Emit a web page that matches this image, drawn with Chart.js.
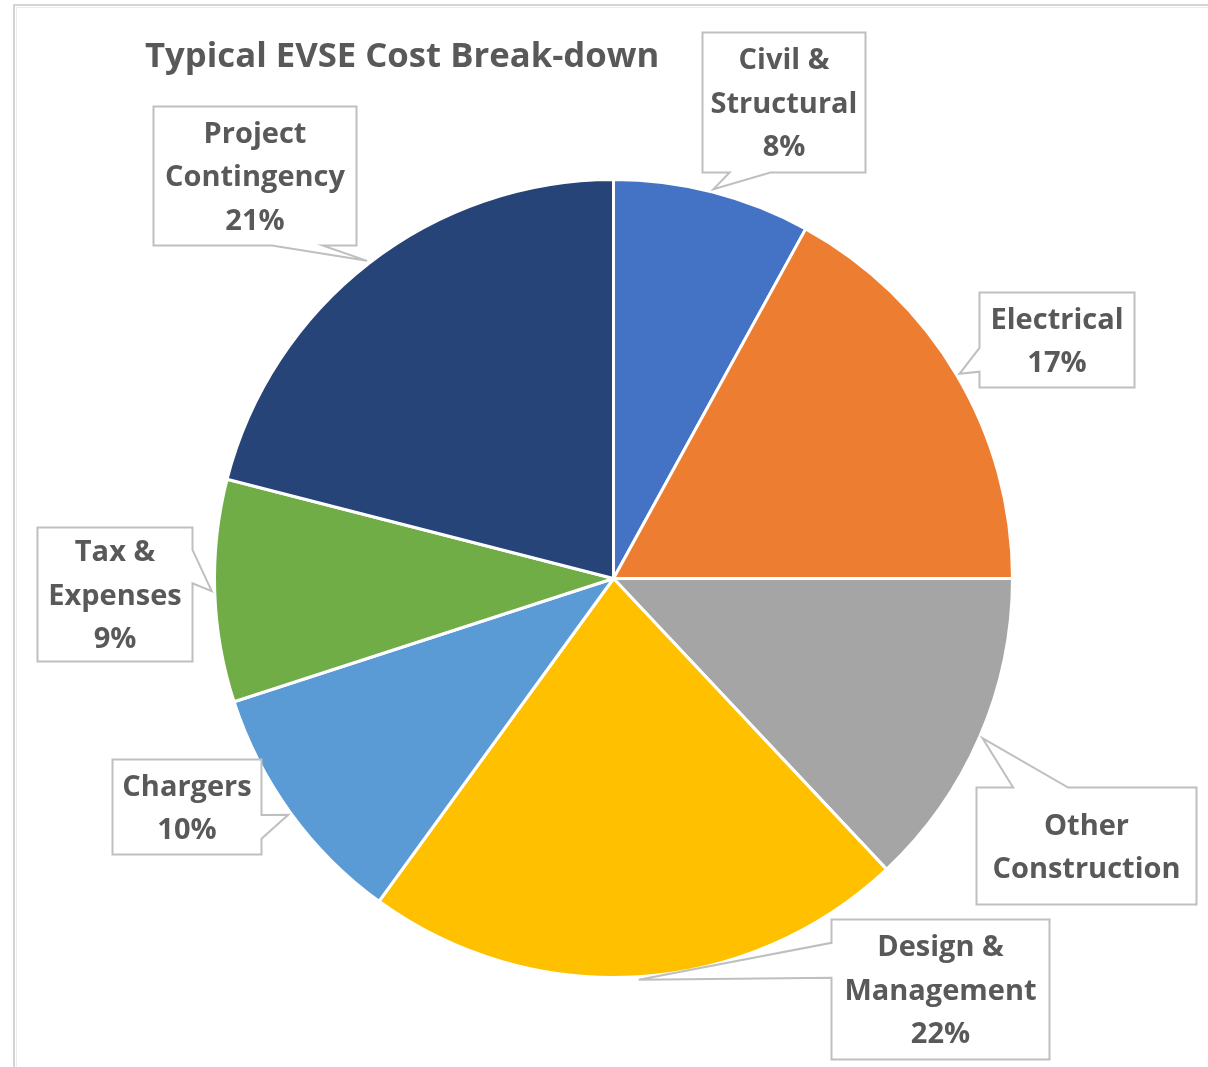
<!DOCTYPE html>
<html>
<head>
<title>Typical EVSE Cost Break-down</title>
<script src="https://cdn.jsdelivr.net/npm/chart.js"></script>
<style>
  html, body { margin: 0; padding: 0; background: #fff; }
  #wrap { width: 1208px; height: 1067px; }
</style>
</head>
<body>
<div id="wrap"><canvas id="chart" width="1208" height="1067"></canvas></div>

<script>
// cost categories, clockwise from 12 o'clock (multi-line labels)
const categories = [
  ['Civil &', 'Structural'],
  ['Electrical'],
  ['Other', 'Construction'],
  ['Design &', 'Management'],
  ['Chargers'],
  ['Tax &', 'Expenses'],
  ['Project', 'Contingency']
];
// share of total cost, percent
const costShares = [8, 17, 13, 22, 10, 9, 21];
// which callouts print the percentage
const showPercent = [true, true, false, true, true, true, true];

const sliceColors = ['#4472C4', '#ED7D31', '#A5A5A5', '#FFC000', '#5B9BD5', '#70AD47', '#264478'];

// callout boxes: centre offset from the pie centre and box size
const calloutBoxes = [
  { dx: 170.5, dy: -476, w: 163, h: 140 },
  { dx: 443.5, dy: -238.5, w: 155, h: 95 },
  { dx: 473, dy: 267.5, w: 220, h: 117 },
  { dx: 327, dy: 411, w: 218, h: 140 },
  { dx: -426.5, dy: 228.5, w: 149, h: 95 },
  { dx: -498.5, dy: 16, w: 155, h: 134 },
  { dx: -358.5, dy: -402.5, w: 203, h: 139 }
];

const chartTitle = 'Typical EVSE Cost Break-down';
const textColor = '#595959';
const fontFamily = '"Open Sans", Lato, sans-serif';

// rectangle with a wedge pointing at (tx, ty), same geometry as an office "wedgeRectCallout"
function calloutPath(ctx, l, t, w, h, tx, ty) {
  const r = l + w, b = t + h;
  const cx = l + w / 2, cy = t + h / 2;
  const dxPos = tx - cx, dyPos = ty - cy;
  const dq = dxPos * h / w;
  const vertical = Math.abs(dyPos) > Math.abs(dq);
  const x1 = l + w * (dxPos > 0 ? 7 : 2) / 12;
  const x2 = l + w * (dxPos > 0 ? 10 : 5) / 12;
  const y1 = t + h * (dyPos > 0 ? 7 : 2) / 12;
  const y2 = t + h * (dyPos > 0 ? 10 : 5) / 12;

  ctx.beginPath();
  ctx.moveTo(l, t);
  if (vertical && dyPos < 0) { ctx.lineTo(x1, t); ctx.lineTo(tx, ty); ctx.lineTo(x2, t); }
  ctx.lineTo(r, t);
  if (!vertical && dxPos > 0) { ctx.lineTo(r, y1); ctx.lineTo(tx, ty); ctx.lineTo(r, y2); }
  ctx.lineTo(r, b);
  if (vertical && dyPos > 0) { ctx.lineTo(x2, b); ctx.lineTo(tx, ty); ctx.lineTo(x1, b); }
  ctx.lineTo(l, b);
  if (!vertical && dxPos < 0) { ctx.lineTo(l, y2); ctx.lineTo(tx, ty); ctx.lineTo(l, y1); }
  ctx.closePath();
}

const frameAndTitle = {
  id: 'frameAndTitle',
  beforeDraw(chart) {
    const ctx = chart.ctx;
    ctx.save();
    ctx.fillStyle = '#fff';
    ctx.fillRect(0, 0, chart.width, chart.height);
    // chart border (only the top and left edges are inside the page)
    ctx.strokeStyle = '#d4d4d4';
    ctx.lineWidth = 2;
    ctx.beginPath();
    ctx.moveTo(14, chart.height);
    ctx.lineTo(14, 5);
    ctx.lineTo(chart.width, 5);
    ctx.stroke();
    ctx.strokeStyle = '#ececec';
    ctx.lineWidth = 1;
    ctx.beginPath();
    ctx.moveTo(16.5, chart.height);
    ctx.lineTo(16.5, 7.5);
    ctx.lineTo(chart.width, 7.5);
    ctx.stroke();

    ctx.fillStyle = textColor;
    ctx.font = 'bold 34.7px ' + fontFamily;
    ctx.textAlign = 'left';
    ctx.textBaseline = 'alphabetic';
    ctx.fillText(chartTitle, 145, 67);
    ctx.restore();
  }
};

const callouts = {
  id: 'callouts',
  afterDatasetsDraw(chart) {
    const ctx = chart.ctx;
    const meta = chart.getDatasetMeta(0);
    const data = chart.data.datasets[0].data;
    const total = data.reduce((a, b) => a + b, 0);
    ctx.save();
    meta.data.forEach((arc, i) => {
      const p = arc.getProps(['x', 'y', 'startAngle', 'endAngle', 'outerRadius'], true);
      const mid = (p.startAngle + p.endAngle) / 2;
      const tipX = p.x + Math.cos(mid) * (p.outerRadius + 3);
      const tipY = p.y + Math.sin(mid) * (p.outerRadius + 3);
      const box = calloutBoxes[i];
      const l = p.x + box.dx - box.w / 2;
      const t = p.y + box.dy - box.h / 2;

      calloutPath(ctx, l, t, box.w, box.h, tipX, tipY);
      ctx.fillStyle = '#fff';
      ctx.fill();
      ctx.strokeStyle = '#bfbfbf';
      ctx.lineWidth = 2;
      ctx.lineJoin = 'miter';
      ctx.stroke();

      const lines = chart.data.labels[i].slice();
      if (showPercent[i]) lines.push(Math.round(data[i] / total * 100) + '%');
      const lineH = 43.5;
      ctx.fillStyle = textColor;
      ctx.font = 'bold 29px ' + fontFamily;
      ctx.textAlign = 'center';
      ctx.textBaseline = 'middle';
      const y0 = t + box.h / 2 - (lines.length - 1) * lineH / 2 + 2;
      lines.forEach((s, k) => ctx.fillText(s, l + box.w / 2, y0 + k * lineH));
    });
    ctx.restore();
  }
};

new Chart(document.getElementById('chart'), {
  type: 'pie',
  data: {
    labels: categories,
    datasets: [{
      data: costShares,
      backgroundColor: sliceColors,
      borderColor: '#ffffff',
      borderWidth: 3,
      hoverBorderWidth: 3,
      hoverOffset: 0
    }]
  },
  options: {
    responsive: false,
    animation: false,
    events: [],
    layout: { padding: { left: 213, top: 178, right: 194, bottom: 88 } },
    plugins: {
      legend: { display: false },
      tooltip: { enabled: false },
      title: { display: false }
    }
  },
  plugins: [frameAndTitle, callouts]
});
</script>
</body>
</html>
